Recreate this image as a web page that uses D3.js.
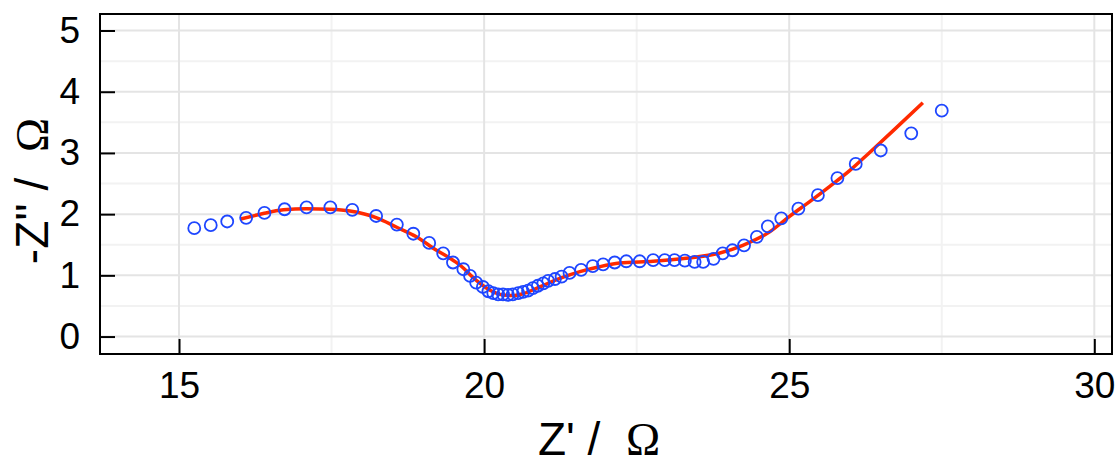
<!DOCTYPE html>
<html>
<head>
<meta charset="utf-8">
<script src="https://cdn.jsdelivr.net/npm/d3@7"></script>
<style>
  body { margin: 0; background: #fff; }
  text { font-family: "Liberation Sans", Arial, sans-serif; }
</style>
</head>
<body>
<div id="chart"></div>
<script>
        // Measured points (Z', -Z'')
        const zReal = [15.25, 15.52, 15.79, 16.10, 16.40, 16.73, 17.09, 17.48, 17.84, 18.23,
            18.57, 18.84, 19.10, 19.33, 19.49, 19.66, 19.77, 19.87, 19.98, 20.07,
            20.15, 20.23, 20.31, 20.39, 20.47, 20.56, 20.64, 20.72, 20.80, 20.88,
            20.97, 21.05, 21.16, 21.27, 21.40, 21.59, 21.78, 21.95, 22.14, 22.33,
            22.55, 22.77, 22.96, 23.12, 23.29, 23.45, 23.59, 23.76, 23.91, 24.07,
            24.26, 24.47, 24.65, 24.87, 25.15, 25.47, 25.79, 26.09, 26.50, 27.00, 27.50];
        const zImag = [1.77, 1.82, 1.88, 1.94, 2.02, 2.08, 2.11, 2.11, 2.07, 1.97,
            1.83, 1.68, 1.53, 1.36, 1.21, 1.10, 0.99, 0.88, 0.81, 0.74,
            0.71, 0.69, 0.69, 0.68, 0.69, 0.71, 0.73, 0.75, 0.79, 0.83,
            0.87, 0.91, 0.94, 0.98, 1.04, 1.09, 1.15, 1.18, 1.21, 1.23,
            1.23, 1.25, 1.25, 1.25, 1.24, 1.22, 1.22, 1.27, 1.36, 1.41,
            1.49, 1.63, 1.80, 1.93, 2.09, 2.31, 2.59, 2.82, 3.04, 3.32, 3.69];

        // Fitted curve
        const fitReal = [16.01, 16.38, 16.71, 17.09, 17.47, 17.80, 18.24, 18.56, 18.89, 19.22,
            19.44, 19.60, 19.87, 20.09, 20.31, 20.47, 20.64, 20.91, 21.24, 21.57,
            21.89, 22.22, 22.77, 23.31, 23.85, 24.24, 24.68, 25.00, 25.33, 25.66,
            25.99, 26.31, 26.70, 27.19];
        const fitImag = [1.92, 2.01, 2.07, 2.09, 2.08, 2.05, 1.94, 1.79, 1.63, 1.41,
            1.28, 1.17, 0.92, 0.76, 0.68, 0.67, 0.70, 0.81, 0.95, 1.06,
            1.14, 1.20, 1.23, 1.28, 1.36, 1.49, 1.71, 1.96, 2.20, 2.45,
            2.71, 3.00, 3.36, 3.82];

        const xTicks = [15, 20, 25, 30];
        const yTicks = [0, 1, 2, 3, 4, 5];
        const xMinor = [17.5, 22.5, 27.5];
        const yMinor = [0.5, 1.5, 2.5, 3.5, 4.5];

        const width = 1119;
        const height = 457;
        const margin = {left: 100, right: 7, top: 14, bottom: 103};

        const svg = d3.select("#chart")
            .append("svg")
            .attr("width", width)
            .attr("height", height);

        const x = d3.scaleLinear()
            .domain([13.705, 30.29])
            .range([margin.left, width - margin.right]);
        const y = d3.scaleLinear()
            .domain([-0.285, 5.27])
            .range([height - margin.bottom, margin.top]);

        const x0 = x.range()[0], x1 = x.range()[1];
        const y0 = y.range()[0], y1 = y.range()[1];

        // grid
        const grid = svg.append("g");
        grid.selectAll(".ymin").data(yMinor).enter().append("line")
            .attr("x1", x0).attr("x2", x1)
            .attr("y1", d => y(d)).attr("y2", d => y(d))
            .attr("stroke", "#f2f2f2").attr("stroke-width", 2);
        grid.selectAll(".xmin").data(xMinor).enter().append("line")
            .attr("y1", y0).attr("y2", y1)
            .attr("x1", d => x(d)).attr("x2", d => x(d))
            .attr("stroke", "#f2f2f2").attr("stroke-width", 2);
        grid.selectAll(".ymaj").data(yTicks).enter().append("line")
            .attr("x1", x0).attr("x2", x1)
            .attr("y1", d => y(d)).attr("y2", d => y(d))
            .attr("stroke", "#e4e4e4").attr("stroke-width", 2);
        grid.selectAll(".xmaj").data(xTicks).enter().append("line")
            .attr("y1", y0).attr("y2", y1)
            .attr("x1", d => x(d)).attr("x2", d => x(d))
            .attr("stroke", "#e4e4e4").attr("stroke-width", 2);

        // axes with inward ticks
        const xAxis = svg.append("g")
            .attr("transform", `translate(0,${y0})`)
            .call(d3.axisBottom(x).tickValues(xTicks).tickSize(-15).tickPadding(30).tickFormat(d3.format("d")));
        const yAxis = svg.append("g")
            .attr("transform", `translate(${x0},0)`)
            .call(d3.axisLeft(y).tickValues(yTicks).tickSize(-15).tickPadding(20).tickFormat(d3.format("d")));

        [xAxis, yAxis].forEach(a => {
            a.select(".domain").remove();
            a.selectAll(".tick line").attr("stroke", "#000").attr("stroke-width", 2);
            a.selectAll(".tick text")
                .attr("fill", "#000")
                .attr("font-size", "37px")
                .attr("font-family", "Liberation Sans, Arial, sans-serif");
        });
        xAxis.selectAll(".tick text").attr("dy", "0.71em").attr("y", 18);

        // frame
        svg.append("rect")
            .attr("x", x0).attr("y", y1)
            .attr("width", x1 - x0).attr("height", y0 - y1)
            .attr("fill", "none")
            .attr("stroke", "#000")
            .attr("stroke-width", 2);

        // fitted line
        const fitData = fitReal.map((v, i) => ({x: v, y: fitImag[i]}));
        svg.append("path")
            .datum(fitData)
            .attr("fill", "none")
            .attr("stroke", "#ff2a00")
            .attr("stroke-width", 3.5)
            .attr("d", d3.line().x(d => x(d.x)).y(d => y(d.y)).curve(d3.curveMonotoneX));

        // measured points
        const pts = zReal.map((v, i) => ({x: v, y: zImag[i]}));
        svg.append("g")
            .selectAll("circle")
            .data(pts)
            .enter()
            .append("circle")
            .attr("cx", d => x(d.x))
            .attr("cy", d => y(d.y))
            .attr("r", 6)
            .attr("fill", "none")
            .attr("stroke", "#1e46ff")
            .attr("stroke-width", 1.8);

        // axis titles
        const xTitle = svg.append("text")
            .attr("x", 599)
            .attr("y", 455)
            .attr("text-anchor", "middle")
            .attr("font-size", "46px")
            .attr("fill", "#000");
        xTitle.append("tspan").text("Z' /\u00a0\u00a0");
        xTitle.append("tspan").attr("font-family", "Liberation Serif, Times New Roman, serif").text("\u03a9");

        const yTitle = svg.append("text")
            .attr("transform", "translate(48,191) rotate(-90)")
            .attr("text-anchor", "middle")
            .attr("font-size", "46px")
            .attr("fill", "#000");
        yTitle.append("tspan").text("-Z''\u00a0/\u00a0\u00a0");
        yTitle.append("tspan").attr("font-family", "Liberation Serif, Times New Roman, serif").text("\u03a9");
</script>
</body>
</html>
